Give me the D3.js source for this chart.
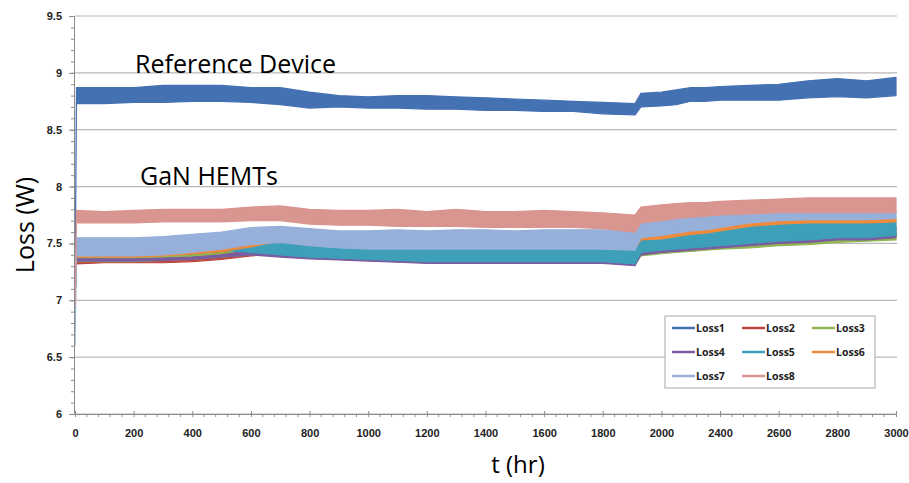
<!DOCTYPE html>
<html>
<head>
<meta charset="utf-8">
<script src="https://cdn.jsdelivr.net/npm/d3@7"></script>
<style>
  body { margin: 0; background: #fff; }
  svg { display: block; font-family: "Open Sans", sans-serif; }
</style>
</head>
<body>
<div id="chart"></div>
<script>
// time (hr) of the sampled points
const tHours = [0, 5, 100, 200, 300, 400, 500, 600, 700, 800, 900, 1000, 1100, 1200, 1300, 1400, 1500, 1600, 1700, 1800, 1910, 1930, 2000, 2100, 2200, 2300, 2400, 2500, 2600, 2700, 2800, 2900, 3000];

// each series is a noisy band: lower and upper envelope (W)
const loss1Lo = [7.0, 8.73, 8.73, 8.74, 8.74, 8.75, 8.75, 8.74, 8.72, 8.69, 8.70, 8.69, 8.69, 8.68, 8.68, 8.67, 8.67, 8.66, 8.66, 8.64, 8.63, 8.70, 8.71, 8.72, 8.75, 8.75, 8.76, 8.76, 8.76, 8.78, 8.79, 8.78, 8.80];
const loss1Hi = [7.0, 8.87, 8.87, 8.87, 8.89, 8.89, 8.89, 8.87, 8.87, 8.83, 8.80, 8.79, 8.80, 8.80, 8.79, 8.78, 8.77, 8.76, 8.75, 8.74, 8.73, 8.82, 8.83, 8.85, 8.87, 8.87, 8.88, 8.89, 8.90, 8.93, 8.95, 8.93, 8.96];
const loss2Lo = [7.0, 7.32, 7.33, 7.33, 7.33, 7.34, 7.36, 7.39, 7.41, 7.39, 7.38, 7.37, 7.36, 7.35, 7.35, 7.35, 7.35, 7.35, 7.35, 7.35, 7.33, 7.43, 7.45, 7.46, 7.47, 7.48, 7.49, 7.51, 7.53, 7.54, 7.56, 7.56, 7.58];
const loss2Hi = [7.0, 7.40, 7.40, 7.40, 7.41, 7.43, 7.45, 7.48, 7.50, 7.47, 7.45, 7.44, 7.43, 7.42, 7.42, 7.42, 7.42, 7.42, 7.42, 7.42, 7.40, 7.50, 7.52, 7.53, 7.54, 7.55, 7.56, 7.58, 7.60, 7.61, 7.63, 7.63, 7.65];
const loss3Lo = [7.0, 7.34, 7.34, 7.34, 7.35, 7.36, 7.38, 7.40, 7.39, 7.37, 7.36, 7.35, 7.34, 7.33, 7.33, 7.33, 7.33, 7.33, 7.33, 7.33, 7.31, 7.39, 7.41, 7.42, 7.43, 7.44, 7.45, 7.46, 7.48, 7.49, 7.51, 7.52, 7.53];
const loss3Hi = [7.0, 7.38, 7.38, 7.38, 7.39, 7.40, 7.42, 7.45, 7.43, 7.41, 7.40, 7.39, 7.38, 7.37, 7.37, 7.37, 7.37, 7.37, 7.37, 7.37, 7.35, 7.44, 7.46, 7.47, 7.48, 7.49, 7.50, 7.52, 7.54, 7.55, 7.57, 7.57, 7.59];
const loss4Lo = [7.0, 7.345, 7.345, 7.345, 7.35, 7.36, 7.38, 7.40, 7.38, 7.365, 7.355, 7.345, 7.335, 7.325, 7.325, 7.325, 7.325, 7.325, 7.325, 7.325, 7.305, 7.40, 7.42, 7.43, 7.44, 7.45, 7.46, 7.48, 7.50, 7.51, 7.53, 7.53, 7.55];
const loss4Hi = [7.0, 7.365, 7.365, 7.365, 7.37, 7.38, 7.40, 7.44, 7.43, 7.41, 7.40, 7.39, 7.38, 7.37, 7.37, 7.37, 7.37, 7.37, 7.37, 7.37, 7.35, 7.44, 7.46, 7.47, 7.48, 7.49, 7.50, 7.52, 7.54, 7.55, 7.57, 7.57, 7.59];
const loss5Lo = [7.0, 7.40, 7.40, 7.40, 7.41, 7.43, 7.44, 7.42, 7.40, 7.38, 7.37, 7.36, 7.35, 7.34, 7.34, 7.34, 7.34, 7.34, 7.34, 7.34, 7.32, 7.42, 7.44, 7.45, 7.46, 7.47, 7.48, 7.50, 7.52, 7.53, 7.55, 7.55, 7.57];
const loss5Hi = [7.0, 7.47, 7.47, 7.47, 7.48, 7.50, 7.52, 7.51, 7.52, 7.49, 7.47, 7.46, 7.46, 7.46, 7.46, 7.46, 7.46, 7.46, 7.46, 7.46, 7.45, 7.55, 7.56, 7.58, 7.60, 7.61, 7.63, 7.66, 7.68, 7.69, 7.69, 7.69, 7.70];
const loss6Lo = [7.0, 7.38, 7.38, 7.38, 7.39, 7.41, 7.43, 7.47, 7.52, 7.49, 7.47, 7.46, 7.46, 7.46, 7.46, 7.46, 7.46, 7.46, 7.46, 7.46, 7.45, 7.53, 7.54, 7.56, 7.58, 7.59, 7.61, 7.65, 7.67, 7.68, 7.68, 7.68, 7.69];
const loss6Hi = [7.0, 7.40, 7.40, 7.40, 7.41, 7.43, 7.45, 7.50, 7.55, 7.52, 7.50, 7.49, 7.49, 7.49, 7.49, 7.49, 7.49, 7.49, 7.49, 7.49, 7.48, 7.57, 7.58, 7.60, 7.62, 7.63, 7.65, 7.69, 7.71, 7.72, 7.72, 7.72, 7.73];
const loss7Lo = [6.6, 7.39, 7.39, 7.39, 7.40, 7.42, 7.45, 7.49, 7.51, 7.48, 7.46, 7.45, 7.45, 7.45, 7.45, 7.45, 7.45, 7.45, 7.45, 7.45, 7.44, 7.55, 7.57, 7.59, 7.61, 7.62, 7.64, 7.68, 7.70, 7.71, 7.71, 7.71, 7.72];
const loss7Hi = [6.6, 7.55, 7.55, 7.55, 7.56, 7.58, 7.60, 7.64, 7.65, 7.63, 7.61, 7.61, 7.62, 7.61, 7.62, 7.62, 7.61, 7.62, 7.62, 7.62, 7.61, 7.68, 7.70, 7.72, 7.74, 7.74, 7.75, 7.76, 7.77, 7.78, 7.78, 7.78, 7.79];
const loss8Lo = [6.95, 7.68, 7.68, 7.68, 7.69, 7.69, 7.69, 7.70, 7.70, 7.67, 7.66, 7.66, 7.65, 7.65, 7.65, 7.64, 7.64, 7.64, 7.64, 7.63, 7.60, 7.68, 7.70, 7.72, 7.73, 7.74, 7.75, 7.76, 7.77, 7.77, 7.77, 7.77, 7.77];
const loss8Hi = [6.95, 7.79, 7.78, 7.79, 7.80, 7.80, 7.80, 7.82, 7.83, 7.80, 7.79, 7.79, 7.80, 7.78, 7.80, 7.78, 7.78, 7.79, 7.78, 7.77, 7.75, 7.82, 7.84, 7.85, 7.86, 7.86, 7.87, 7.88, 7.89, 7.90, 7.90, 7.90, 7.90];

const seriesNames = ["Loss1", "Loss2", "Loss3", "Loss4", "Loss5", "Loss6", "Loss7", "Loss8"];
const seriesColors = ["#4471b2", "#bd4541", "#92b550", "#7b5ca0", "#3d9fb8", "#f08a3c", "#97b0da", "#d9958f"];

const xTickValues = [0, 200, 400, 600, 800, 1000, 1200, 1400, 1600, 1800, 2000, 2400, 2600, 2800, 3000];
const xTickLabels = ["0", "200", "400", "600", "800", "1000", "1200", "1400", "1600", "1800", "2000", "2400", "2600", "2800", "3000"];
const yTicks = [6, 6.5, 7, 7.5, 8, 8.5, 9, 9.5];

const width = 909, height = 483;
const margin = { top: 16, right: 13, bottom: 69, left: 75 };

const svg = d3.select("#chart").append("svg")
    .attr("width", width)
    .attr("height", height);

// category-style x axis: labels evenly spaced
const xPoint = d3.scalePoint()
    .domain(xTickLabels)
    .range([margin.left, width - margin.right]);

const x = d3.scaleLinear()
    .domain(xTickValues)
    .range(xTickLabels.map(d => xPoint(d)));

const y = d3.scaleLinear()
    .domain([6, 9.5])
    .range([height - margin.bottom, margin.top]);

// gridlines
svg.append("g")
    .selectAll("line")
    .data(yTicks)
    .join("line")
    .attr("x1", margin.left)
    .attr("x2", width - margin.right + 1)
    .attr("y1", d => y(d))
    .attr("y2", d => y(d))
    .attr("stroke", "#b8b8b8")
    .attr("stroke-width", 1.2);

// series as bands
const lows = [loss1Lo, loss2Lo, loss3Lo, loss4Lo, loss5Lo, loss6Lo, loss7Lo, loss8Lo];
const highs = [loss1Hi, loss2Hi, loss3Hi, loss4Hi, loss5Hi, loss6Hi, loss7Hi, loss8Hi];

const area = d3.area()
    .x(d => x(d.t))
    .y0(d => y(d.lo))
    .y1(d => y(d.hi));

seriesNames.forEach((name, s) => {
    const pts = tHours.map((t, i) => ({ t: t, lo: lows[s][i], hi: highs[s][i] }));
    svg.append("path")
        .datum(pts)
        .attr("d", area)
        .attr("fill", seriesColors[s])
        .attr("stroke", seriesColors[s])
        .attr("stroke-width", 1.2)
        .attr("stroke-linejoin", "round");
});

// y axis
const yAxis = svg.append("g")
    .attr("transform", `translate(${margin.left - 1},0)`)
    .call(d3.axisLeft(y).tickValues(yTicks).tickSize(5).tickPadding(7).tickFormat(d3.format("")));
yAxis.select(".domain").attr("stroke", "#8c8c8c");
yAxis.selectAll(".tick line").attr("stroke", "#8c8c8c");
yAxis.selectAll("text")
    .attr("font-size", 11)
    .attr("font-weight", "bold")
    .attr("fill", "#222");

svg.append("g")
    .attr("transform", `translate(${margin.left - 1},0)`)
    .call(d3.axisLeft(y).ticks(35).tickSize(3).tickFormat(""))
    .call(g => g.select(".domain").remove())
    .selectAll("line").attr("stroke", "#8c8c8c");

// x axis
const xAxis = svg.append("g")
    .attr("transform", `translate(0,${height - margin.bottom})`)
    .call(d3.axisBottom(x).tickValues(xTickValues).tickSize(3).tickPadding(12)
        .tickFormat((d, i) => xTickLabels[i]));
xAxis.select(".domain").attr("stroke", "#8c8c8c");
xAxis.selectAll(".tick line").attr("y1", -3).attr("stroke", "#8c8c8c");
xAxis.selectAll("text")
    .attr("font-size", 11)
    .attr("font-weight", "bold")
    .attr("fill", "#222");

// minor ticks, five per label interval
const minor = [];
xTickLabels.slice(0, -1).forEach(d => {
    for (let k = 1; k < 5; k++) minor.push(xPoint(d) + xPoint.step() * k / 5);
});
svg.append("g")
    .selectAll("line")
    .data(minor)
    .join("line")
    .attr("x1", d => d).attr("x2", d => d)
    .attr("y1", height - margin.bottom)
    .attr("y2", height - margin.bottom + 3)
    .attr("stroke", "#8c8c8c");

// axis titles
svg.append("text")
    .attr("x", 518)
    .attr("y", 473)
    .attr("text-anchor", "middle")
    .attr("font-size", 24)
    .text("t (hr)");

svg.append("text")
    .attr("transform", "translate(34,225) rotate(-90)")
    .attr("text-anchor", "middle")
    .attr("font-size", 25)
    .text("Loss (W)");

// annotations
svg.append("text")
    .attr("x", 135)
    .attr("y", 73)
    .attr("font-size", 25)
    .text("Reference Device");

svg.append("text")
    .attr("x", 140)
    .attr("y", 185)
    .attr("font-size", 25)
    .text("GaN HEMTs");

// legend
const legend = svg.append("g").attr("transform", "translate(665,316)");
legend.append("rect")
    .attr("width", 210)
    .attr("height", 72)
    .attr("fill", "#fff")
    .attr("stroke", "#a6a6a6");

const item = legend.selectAll(".item")
    .data(seriesNames)
    .join("g")
    .attr("class", "item")
    .attr("transform", (d, i) => `translate(${7 + (i % 3) * 70},${12 + Math.floor(i / 3) * 24})`);
item.append("line")
    .attr("x1", 0).attr("x2", 23)
    .attr("stroke", (d, i) => seriesColors[i])
    .attr("stroke-width", 2.5);
item.append("text")
    .attr("x", 24)
    .attr("dy", "0.35em")
    .attr("font-size", 10.5)
    .attr("font-weight", "bold")
    .attr("fill", "#222")
    .text(d => d);
</script>
</body>
</html>
